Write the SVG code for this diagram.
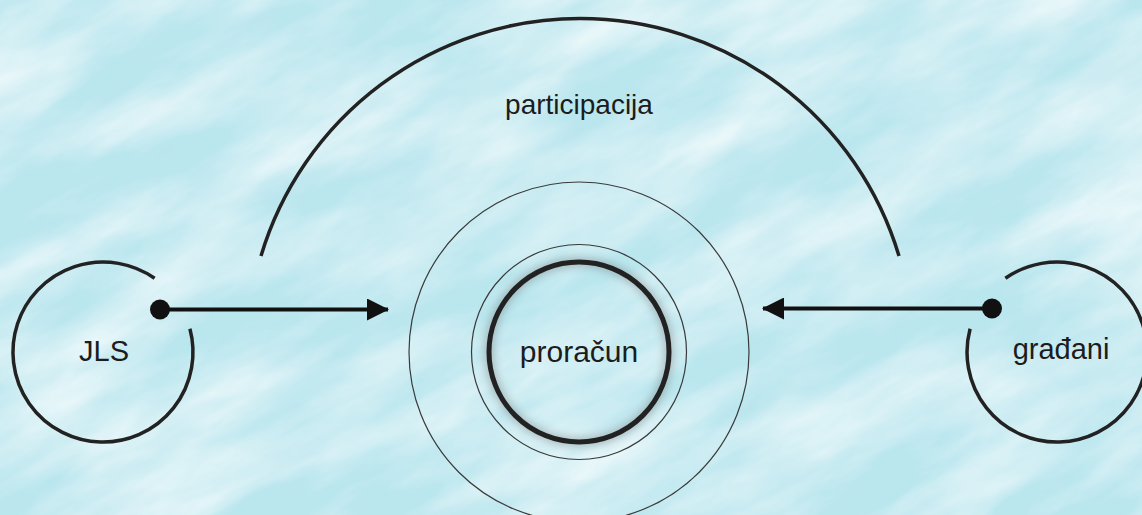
<svg xmlns="http://www.w3.org/2000/svg" width="1142" height="515" viewBox="0 0 1142 515">
<style>
  .lbl{font-family:"Liberation Sans",Arial,Helvetica,sans-serif;fill:#1c1c1c;text-anchor:middle}
  .ring{fill:none;stroke:#222;stroke-width:3.5}
  .thin{fill:none;stroke:#3a3a3a;stroke-width:1.2}
  .conn{fill:none;stroke:#111;stroke-width:4.2}
</style>
<defs>
  <filter id="tex" x="-400" y="-600" width="2000" height="1700" filterUnits="userSpaceOnUse">
    <feTurbulence type="fractalNoise" baseFrequency="0.005 0.016" numOctaves="5" seed="7"/>
    <feColorMatrix type="matrix" values="0 0 0 0 1  0 0 0 0 1  0 0 0 0 1  1.4 0 0 0 -0.45"/>
  </filter>
  <filter id="tex2" x="-400" y="-600" width="2000" height="1700" filterUnits="userSpaceOnUse">
    <feTurbulence type="fractalNoise" baseFrequency="0.01 0.035" numOctaves="3" seed="19"/>
    <feColorMatrix type="matrix" values="0 0 0 0 0.5  0 0 0 0 0.78  0 0 0 0 0.85  1.2 0 0 0 -0.6"/>
  </filter>
  <filter id="glow" x="-30%" y="-30%" width="160%" height="160%">
    <feGaussianBlur stdDeviation="4"/>
  </filter>
  <marker id="arrow" viewBox="0 0 22 22" refX="21" refY="11" markerWidth="22" markerHeight="22" markerUnits="userSpaceOnUse" orient="auto">
    <path d="M0 0 L22 11 L0 22 Z" fill="#111"/>
  </marker>
</defs>

<rect width="1142" height="515" fill="#bae6ee"/>
<g transform="rotate(-28 571 257)">
  <rect x="-400" y="-600" width="2000" height="1700" filter="url(#tex)"/>
  <rect x="-400" y="-600" width="2000" height="1700" filter="url(#tex2)"/>
</g>

<g id="participacija">
  <path class="ring" d="M 261 256 A 333 333 0 0 1 899 256" stroke-width="4.5"/>
  <text class="lbl" x="579" y="114" font-size="28">participacija</text>
</g>

<g id="node-proracun">
  <circle class="thin" cx="579" cy="352" r="170"/>
  <circle class="thin" cx="579" cy="352" r="107.5"/>
  <circle cx="579" cy="352" r="90" fill="none" stroke="#666" stroke-width="9" opacity="0.4" filter="url(#glow)"/>
  <circle cx="579" cy="352" r="90" fill="none" stroke="#222" stroke-width="5"/>
  <text class="lbl" x="579" y="362" font-size="30">proračun</text>
</g>

<g id="node-jls">
  <path class="ring" d="M 189.9 328.7 A 90 90 0 1 1 154.6 278.3"/>
  <text class="lbl" x="104" y="361" font-size="29">JLS</text>
</g>

<g id="node-gradjani">
  <path class="ring" d="M 970.1 328.7 A 90 90 0 1 0 1005.4 278.3"/>
  <text class="lbl" x="1061" y="359" font-size="29">građani</text>
</g>

<g id="connectors">
  <circle cx="160" cy="309.5" r="10" fill="#111"/>
  <line class="conn" x1="160" y1="309.5" x2="388" y2="309.5" marker-end="url(#arrow)"/>
  <circle cx="992" cy="308.5" r="10" fill="#111"/>
  <line class="conn" x1="992" y1="308.5" x2="763" y2="308.5" marker-end="url(#arrow)"/>
</g>
</svg>
